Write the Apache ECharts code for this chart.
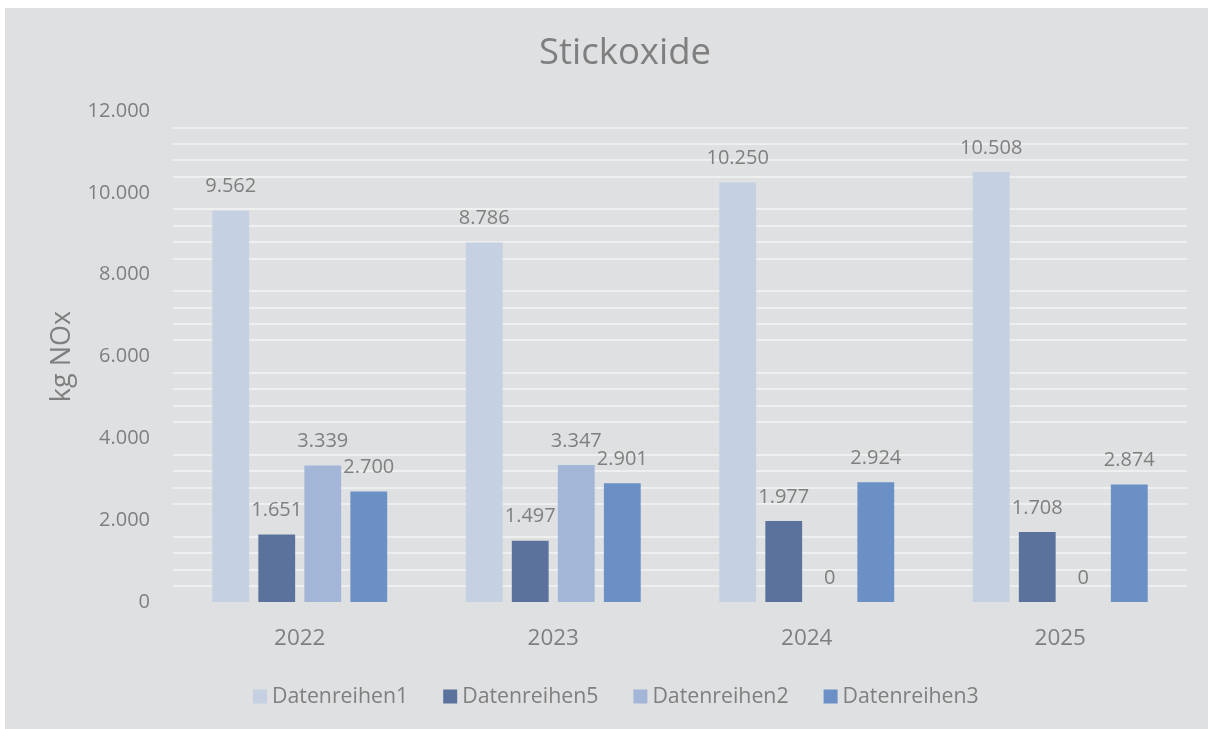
<!DOCTYPE html>
<html>
<head>
<meta charset="utf-8">
<script src="https://cdn.jsdelivr.net/npm/echarts@6/dist/echarts.min.js"></script>
<style>
  html, body { margin: 0; padding: 0; background: #ffffff; }
  #chart {
    position: absolute;
    left: 5px;
    top: 8px;
    width: 1203px;
    height: 721px;
    background: #dfe0e2;
  }
</style>
</head>
<body>
<div id="chart"></div>
<script>
const years = ['2022', '2023', '2024', '2025']
const seriesNames = ['Datenreihen1', 'Datenreihen5', 'Datenreihen2', 'Datenreihen3']
const reihe1 = [9562, 8786, 10250, 10508]
const reihe5 = [1651, 1497, 1977, 1708]
const reihe2 = [3339, 3347, 0, 0]
const reihe3 = [2700, 2901, 2924, 2874]
const seriesColors = ['#c5d0e2', '#5b739c', '#a4b6d7', '#6a90c5']

const textColor = '#7f7f7f'
const fontFamily = '"Open Sans", "Noto Sans", sans-serif'

// Tausendertrennzeichen mit Punkt
const fmt = (v) => String(Math.round(v)).replace(/\B(?=(\d{3})+(?!\d))/g, '.')

const chart = echarts.init(document.getElementById('chart'))

const makeSeries = (name, data, color) => ({
  name,
  type: 'bar',
  data,
  barGap: '25%',
  barCategoryGap: '31%',
  itemStyle: { color },
  label: {
    show: true,
    position: 'top',
    distance: 14,
    color: textColor,
    fontFamily,
    fontSize: 20,
    formatter: (p) => fmt(p.value)
  }
})

const option = {
  backgroundColor: 'transparent',
  textStyle: { fontFamily, color: textColor },
  title: {
    text: 'Stickoxide',
    left: 529,
    top: 22,
    textStyle: {
      color: textColor,
      fontFamily,
      fontSize: 36.5,
      fontWeight: 'normal'
    }
  },
  legend: {
    bottom: 17,
    left: 243,
    itemWidth: 14,
    itemHeight: 14,
    itemGap: 35,
    icon: 'rect',
    textStyle: { color: textColor, fontFamily, fontSize: 21.3 },
    data: seriesNames
  },
  grid: {
    left: 168,
    right: 21,
    top: 103,
    bottom: 127
  },
  xAxis: {
    type: 'category',
    data: years,
    axisLine: { show: false },
    axisTick: { show: false },
    axisLabel: {
      color: textColor,
      fontFamily,
      fontSize: 22.5,
      margin: 25
    }
  },
  yAxis: {
    type: 'value',
    min: 0,
    max: 12000,
    interval: 2000,
    name: 'kg NOx',
    nameLocation: 'middle',
    nameGap: 97,
    nameTextStyle: { color: textColor, fontFamily, fontSize: 27 },
    axisLine: { show: false },
    axisTick: { show: false },
    axisLabel: {
      color: textColor,
      fontFamily,
      fontSize: 20,
      margin: 23,
      formatter: (v) => fmt(v)
    },
    splitLine: { show: false },
    minorTick: { show: false, splitNumber: 5 },
    minorSplitLine: {
      show: true,
      lineStyle: { color: '#f3f3f3', width: 1.5 }
    }
  },
  series: [
    makeSeries(seriesNames[0], reihe1, seriesColors[0]),
    makeSeries(seriesNames[1], reihe5, seriesColors[1]),
    makeSeries(seriesNames[2], reihe2, seriesColors[2]),
    makeSeries(seriesNames[3], reihe3, seriesColors[3])
  ]
}

chart.setOption(option)
</script>
</body>
</html>
